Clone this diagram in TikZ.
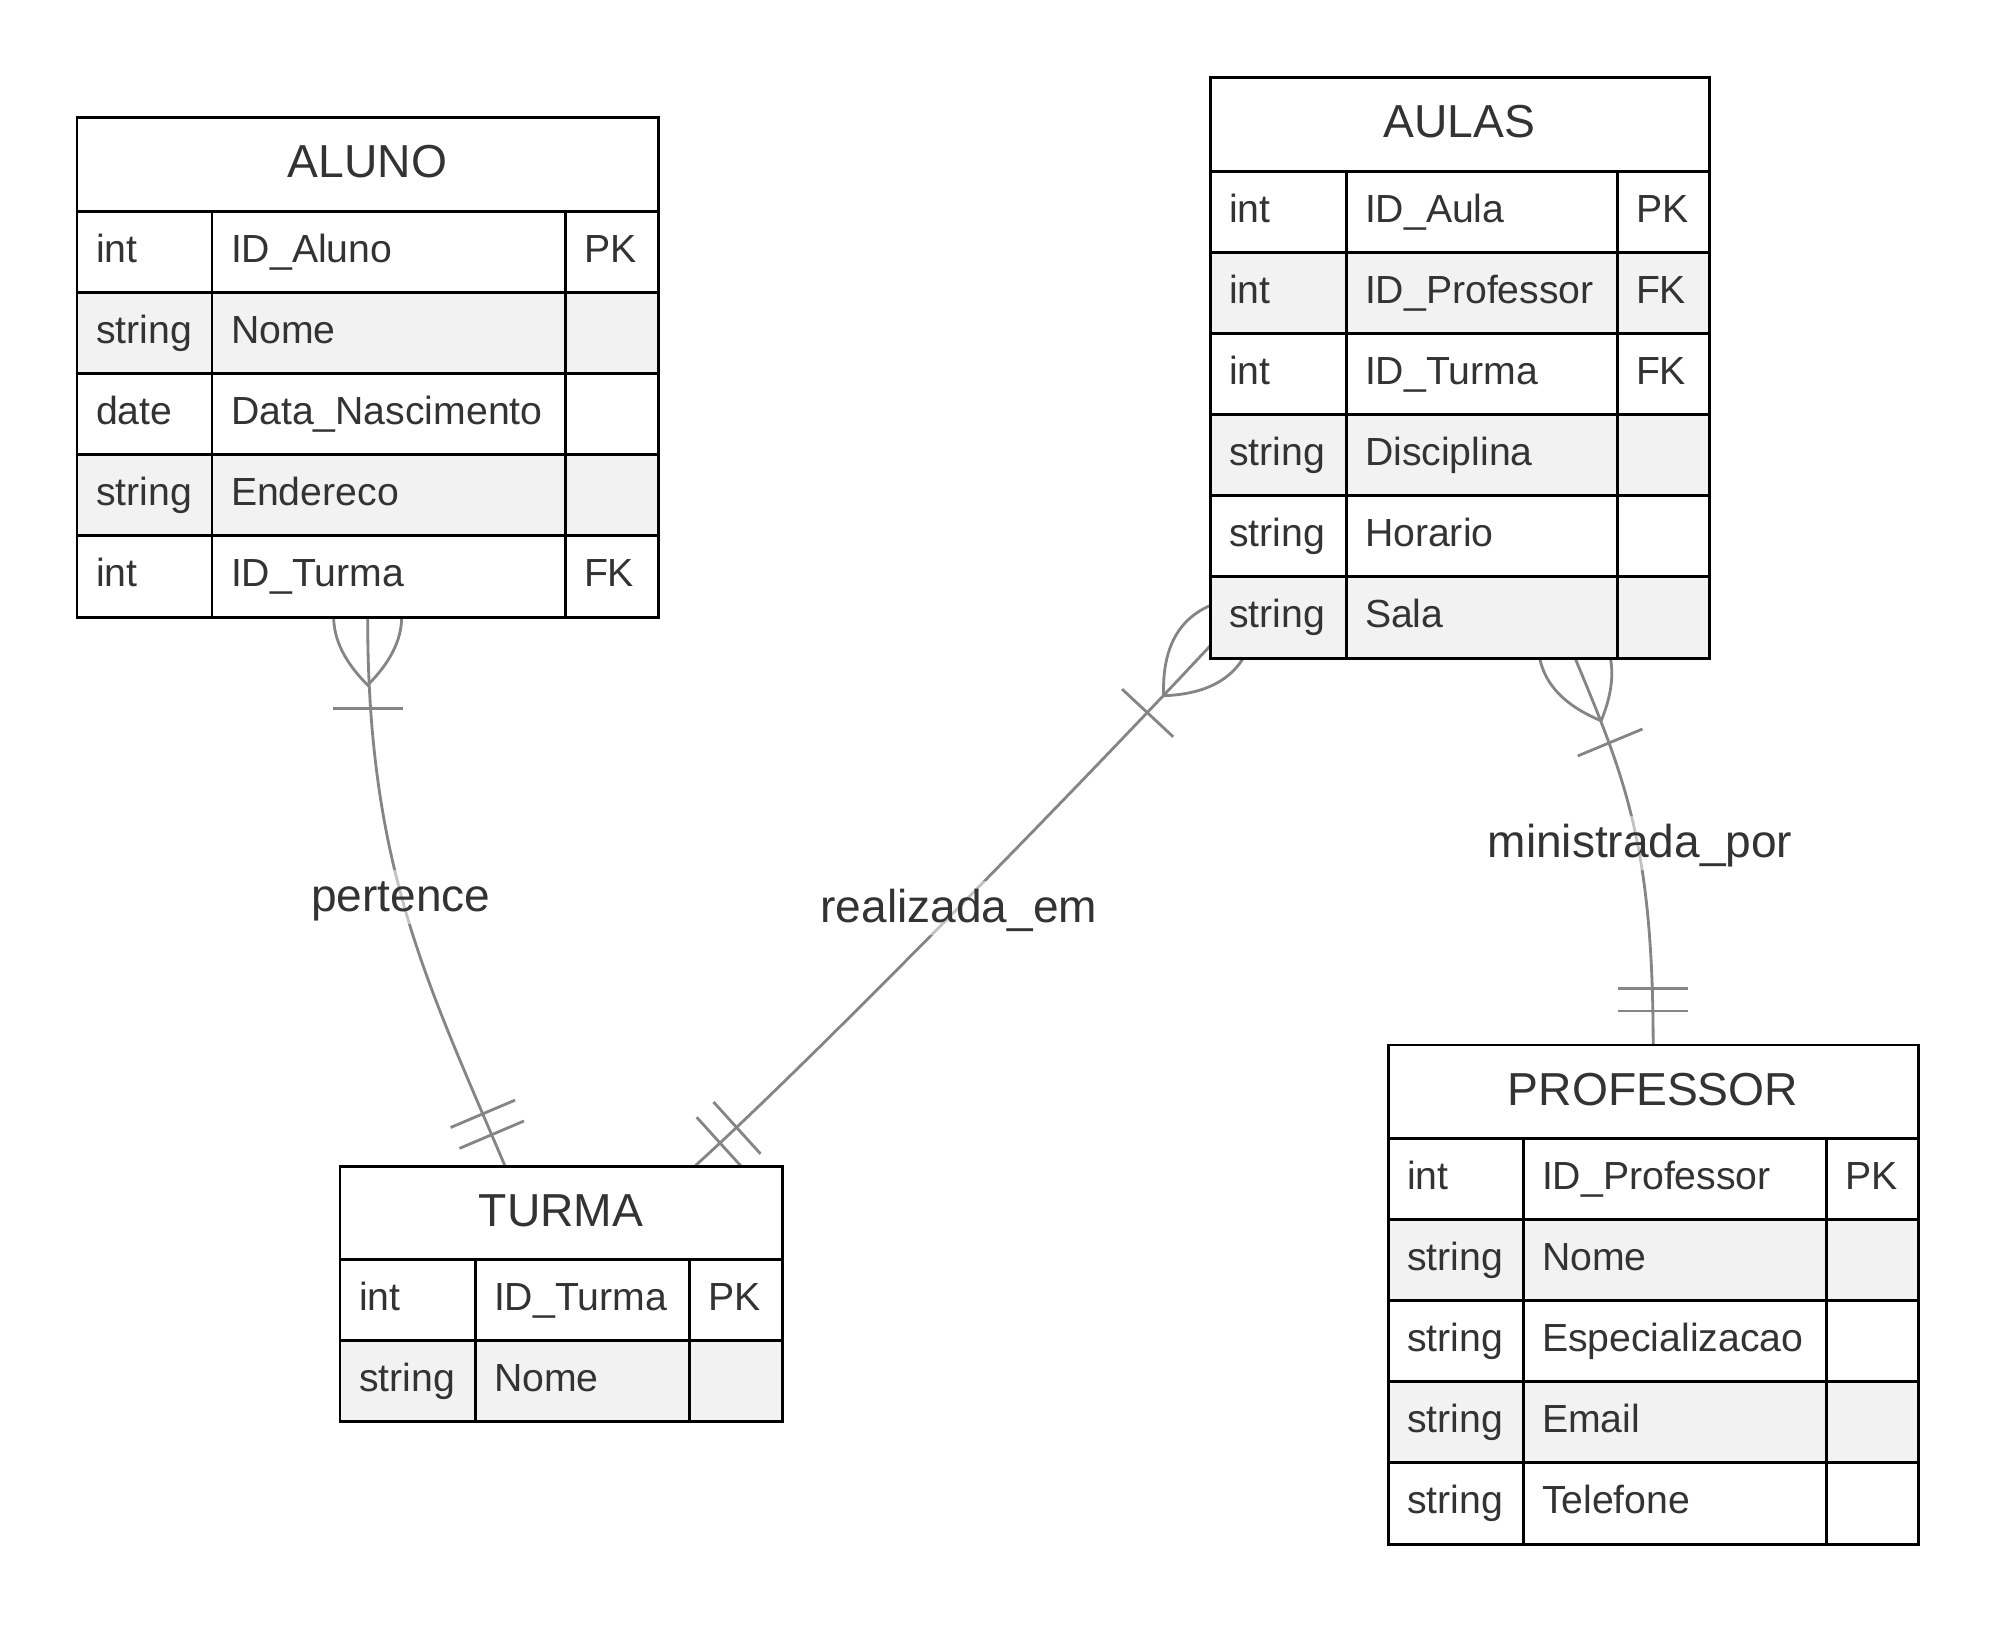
\documentclass[tikz,border=0pt]{standalone}
\usepackage{fontspec}
\setmainfont{Liberation Sans}
\usetikzlibrary{calc}
\definecolor{txt}{HTML}{333333}
\definecolor{rowfill}{HTML}{F2F2F2}
\definecolor{conncol}{HTML}{858585}
\pgfdeclarelayer{bg}
\pgfsetlayers{bg,main}
\tikzset{
  celltext/.style={anchor=base west, inner sep=0pt, outer sep=0pt, text=txt, font=\fontsize{11.15pt}{13pt}\selectfont},
  titletext/.style={anchor=base, inner sep=0pt, outer sep=0pt, text=txt, font=\fontsize{13.15pt}{15pt}\selectfont},
  tabline/.style={draw=black, line width=0.85pt},
  rowgray/.style={fill=rowfill},
  conn/.style={draw=conncol, line width=0.8pt},
  lbl/.style={anchor=base, fill=white, fill opacity=0.5, text opacity=1, text=txt,
    font=\fontsize{13.1pt}{15pt}\selectfont, text height=11.6pt, text depth=3.2pt,
    inner xsep=1pt, inner ysep=0.3pt}
}
% #1 name #2 x #3 y #4 w1 #5 w2 #6 w3 #7 nrows #8 title #9 rows
\newcommand{\ertable}[9]{%
  \pgfmathsetmacro\ertW{#4+#5+#6}%
  \pgfmathsetmacro\ertH{93.3+81.1*#7}%
  \pgfmathsetmacro\ertWd{\ertW*0.284528}%
  \pgfmathsetmacro\ertHd{\ertH*0.284528}%
  \pgfmathsetmacro\ertXa{#2+#4}%
  \pgfmathsetmacro\ertXb{#2+#4+#5}%
  \pgfmathsetmacro\ertXr{#2+\ertW}%
  \pgfmathsetmacro\ertYh{#3+93.3}%
  \pgfmathsetmacro\ertYb{#3+\ertH}%
  \node[anchor=north west, inner sep=0pt, outer sep=0pt, minimum width=\ertWd pt,
        minimum height=\ertHd pt, fill=white] (#1) at (#2,#3) {};
  \node[titletext] (#1-title) at (#2+\ertW/2, #3+60) {#8};
  \foreach \ty/\nm/\ky [count=\i] in {#9} {
    \pgfmathsetmacro\ertRy{#3+93.3+81.1*(\i-1)}
    \ifodd\i\else \fill[rowgray] (#2,\ertRy) rectangle (\ertXr,\ertRy+81.1); \fi
    \node[celltext] (#1-t\i) at (#2+19,\ertRy+50.8) {\ty};
    \node[celltext] (#1-n\i) at (\ertXa+19,\ertRy+50.8) {\nm};
    \node[celltext] (#1-k\i) at (\ertXb+19,\ertRy+50.8) {\ky};
    \draw[tabline] (#2,\ertRy) -- (\ertXr,\ertRy);
  }
  \draw[tabline] (\ertXa,\ertYh) -- (\ertXa,\ertYb) (\ertXb,\ertYh) -- (\ertXb,\ertYb);
  \draw[tabline] (#1.north west) rectangle (#1.south east);
}
\newcommand{\lensmark}[2]{%
  \begin{scope}[shift={(#1)}, rotate=#2]
    \draw[conn] (-68,0) .. controls (-22.7,-45.3) and (22.7,-45.3) .. (68,0)
                        .. controls (22.7,45.3) and (-22.7,45.3) .. (-68,0);
    \draw[conn] (91.5,-35) -- (91.5,35);
  \end{scope}}
\newcommand{\barmark}[2]{%
  \begin{scope}[shift={(#1)}, rotate=#2]
    \draw[conn] (-34,-35) -- (-34,35) (-56.7,-35) -- (-56.7,35);
  \end{scope}}
\begin{document}
\begin{tikzpicture}[x=0.01cm, y=-0.01cm]
\useasboundingbox (0,0) rectangle (2000,1625);

\ertable{aluno}{77}{118}{135}{353}{93}{5}{ALUNO}{int/ID\_Aluno/PK, string/Nome/{}, date/Data\_Nascimento/{}, string/Endereco/{}, int/ID\_Turma/FK}
\ertable{aulas}{1210}{78}{136}{271}{92}{6}{AULAS}{int/ID\_Aula/PK, int/ID\_Professor/FK, int/ID\_Turma/FK, string/Disciplina/{}, string/Horario/{}, string/Sala/{}}
\ertable{turma}{340}{1166}{135}{214}{93}{2}{TURMA}{int/ID\_Turma/PK, string/Nome/{}}
\ertable{professor}{1388}{1045}{135}{303}{92}{5}{PROFESSOR}{int/ID\_Professor/PK, string/Nome/{}, string/Especializacao/{}, string/Email/{}, string/Telefone/{}}

\coordinate (p1s) at (aluno.south);
\coordinate (p1e) at (505,1166);
\coordinate (p2s) at (1210,646);
\coordinate (p2e) at (695,1166);
\coordinate (p3s) at (1575,658);
\coordinate (p3e) at (professor.north);

\begin{pgfonlayer}{bg}
  \fill[white] (0,0) rectangle (2000,1625);
  \draw[conn] (p1s) .. controls (367.5,866.5) and (427,982) .. (p1e);
  \draw[conn] (p2s) .. controls (1094.4,770.1) and (820.8,1052) .. (p2e);
  \draw[conn] (p3s) .. controls (1625,778) and (1653,845) .. (p3e);
  \lensmark{p1s}{-90}
  \barmark{p1e}{-67}
  \lensmark{p2s}{-133}
  \barmark{p2e}{-137.8}
  \lensmark{p3s}{-67.4}
  \barmark{p3e}{-90}
\end{pgfonlayer}

\node[lbl] (l1) at (400.8,911.7) {pertence};
\node[lbl] (l2) at (958.8,922.7) {realizada\_em};
\node[lbl] (l3) at (1640,857.7) {ministrada\_por};
\end{tikzpicture}
\end{document}
